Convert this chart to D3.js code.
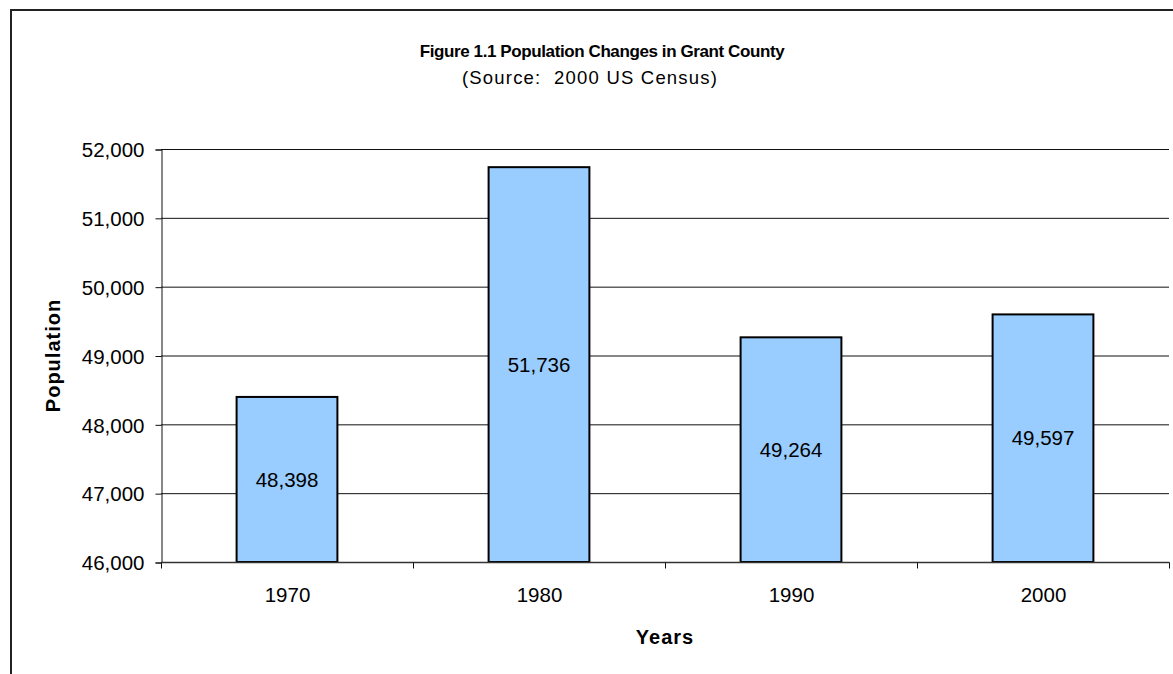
<!DOCTYPE html>
<html><head><meta charset="utf-8">
<script src="https://cdn.jsdelivr.net/npm/d3@7"></script>
<style>
html,body{margin:0;padding:0;background:#fff;}
svg{display:block;font-family:"Liberation Sans",Arial,sans-serif;}
</style></head>
<body>
<svg id="c" width="1173" height="674"></svg>
<script>
const categories = ["1970", "1980", "1990", "2000"];
const population = [48398, 51736, 49264, 49597];
const yTicks = [46000, 47000, 48000, 49000, 50000, 51000, 52000];
const titleText = "Figure 1.1 Population Changes in Grant County";
const subtitleText = "(Source:  2000 US Census)";
const xTitle = "Years";
const yTitle = "Population";

const svg = d3.select("#c");
const m = {left:161, right:1169, top:149, bottom:562};

// outer frame
svg.append("rect").attr("x",11).attr("y",10).attr("width",1200).attr("height",700)
  .attr("fill","#fff").attr("stroke","#222").attr("stroke-width",2);

const x = d3.scaleBand().domain(categories).range([m.left, m.right]).paddingInner(0).paddingOuter(0);
const y = d3.scaleLinear().domain([46000, 52000]).range([m.bottom, m.top]);
const fmt = d3.format(",");

// gridlines
svg.append("g").selectAll("line").data(yTicks.slice(1)).join("line")
  .attr("x1", m.left).attr("x2", m.right)
  .attr("y1", d=>y(d)+0.5).attr("y2", d=>y(d)+0.5)
  .attr("stroke","#111").attr("stroke-width",1);

// y axis
const yAxis = d3.axisLeft(y).tickValues(yTicks).tickFormat(fmt).tickSize(6).tickPadding(11);
const gy = svg.append("g").attr("transform",`translate(${m.left+0.5},0.5)`).call(yAxis);
gy.select(".domain").attr("stroke","#111");
gy.selectAll(".tick line").attr("stroke","#111");
gy.selectAll("text").attr("font-size",20.5).attr("fill","#000").attr("dy","0.35em")
  .attr("font-family",'"Liberation Sans",Arial,sans-serif');

// bars
const bw = x.bandwidth()/2.5;
svg.append("g").selectAll("rect").data(categories).join("rect")
  .attr("x", (d)=>x(d)+x.bandwidth()/2-bw/2)
  .attr("y", (d,i)=>y(population[i]))
  .attr("width", bw)
  .attr("height", (d,i)=>y(46000)-y(population[i]))
  .attr("fill","#99CCFF").attr("stroke","#000").attr("stroke-width",2);

// x axis
const gx = svg.append("g").attr("transform",`translate(0.5,${m.bottom+0.5})`);
gx.append("line").attr("x1",m.left).attr("x2",m.right).attr("stroke","#333").attr("stroke-width",1.5);
const bounds = categories.map(c=>x(c)).concat([m.right]);
gx.selectAll("line.t").data(bounds).join("line").attr("class","t")
  .attr("x1",d=>d).attr("x2",d=>d).attr("y1",0).attr("y2",6).attr("stroke","#111");
gx.selectAll("text").data(categories).join("text")
  .attr("x", d=>x(d)+x.bandwidth()/2).attr("y", 39)
  .attr("text-anchor","middle").attr("font-size",20.5).text(d=>d);

// data labels
svg.append("g").selectAll("text").data(categories).join("text")
  .attr("x", d=>x(d)+x.bandwidth()/2)
  .attr("y", (d,i)=>(y(population[i])+y(46000))/2)
  .attr("dy","0.35em").attr("text-anchor","middle").attr("font-size",20.5)
  .text((d,i)=>fmt(population[i]));

// titles
svg.append("text").attr("x",602).attr("y",57).attr("text-anchor","middle")
  .attr("font-size",17).attr("font-weight","bold").attr("letter-spacing",-0.4).text(titleText);
svg.append("text").attr("x",590).attr("y",84).attr("text-anchor","middle")
  .attr("font-size",18.5).attr("letter-spacing",1.2).style("white-space","pre").text(subtitleText);
svg.append("text").attr("x",665).attr("y",644).attr("text-anchor","middle")
  .attr("font-size",20).attr("font-weight","bold").attr("letter-spacing",1).text(xTitle);
svg.append("text").attr("transform",`translate(60,${(m.top+m.bottom)/2}) rotate(-90)`)
  .attr("text-anchor","middle").attr("font-size",20).attr("font-weight","bold").attr("letter-spacing",1).text(yTitle);
</script>
</body></html>
